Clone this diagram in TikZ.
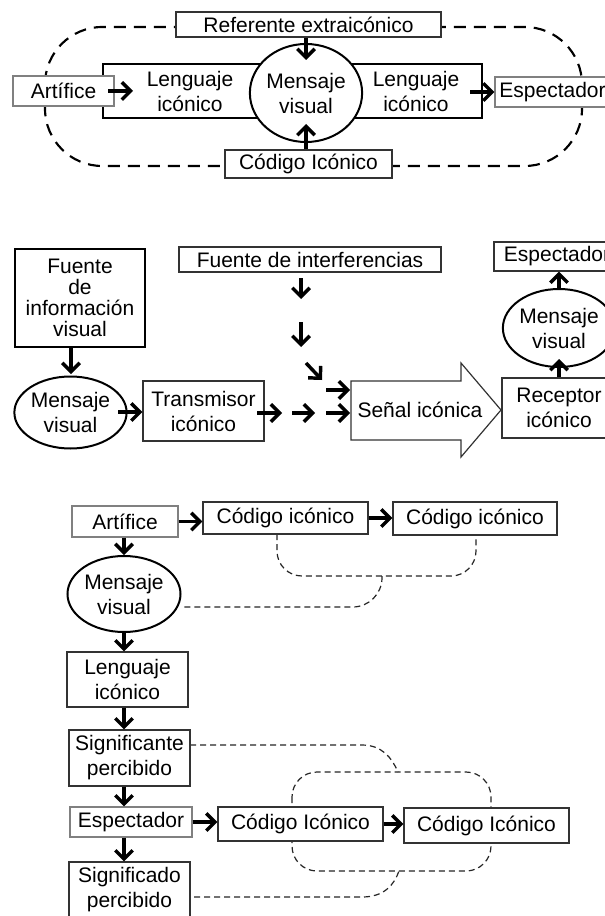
\documentclass[tikz,border=0pt]{standalone}
\usepackage{fontspec}
\setmainfont{Liberation Sans}
\usetikzlibrary{arrows.meta,shapes.geometric}
\begin{document}
\begin{tikzpicture}[x=0.75pt,y=-0.75pt,
  every node/.style={font=\fontsize{15.75}{18.75}\selectfont, inner sep=0pt, align=center},
  wh/.style 2 args={minimum width=#1*0.75pt, minimum height=#2*0.75pt},
  bx/.style={draw=black!80, line width=0.9pt, fill=white, rectangle},
  lbx/.style={draw=black!50, line width=0.9pt, fill=white, rectangle},
  tbx/.style={draw=black, line width=1.7pt, fill=white, rectangle},
  ell/.style={ellipse, draw=black, line width=1.5pt, fill=white},
  arr/.style={line width=2.6pt, -{Straight Barb[length=6.5pt,width=13pt]}},
  bigdash/.style={draw=black, line width=1.6pt, dash pattern=on 9pt off 6pt},
  smalldash/.style={draw=black!85, line width=0.9pt, dash pattern=on 4.5pt off 3pt},
]
\useasboundingbox (0,0) rectangle (605,916);
\clip (0,0) rectangle (605,916);
\fill[white] (0,0) rectangle (605,916);

% ---------- Section 1 ----------
\draw[bigdash, rounded corners=43pt] (45,27) rectangle (582,166);
\node[tbx, wh={379}{54}] (frame) at (292.5,91) {};
\node[ell, wh={108}{98}] (m1) at (306,93) {Mensaje\\visual};
\node[bx, wh={265}{25}] (ref) at (308.5,24.5) {Referente extraicónico};
\node[bx, wh={167}{28}] (cod1) at (308.5,164) {Código Icónico};
\node[lbx, wh={101}{30}] (art1) at (63.5,91) {Artífice};
\node[lbx, wh={115}{30}] (esp1) at (552.5,92) {Espectador};
\node (l1) at (190,91) {Lenguaje\\icónico};
\node (l2) at (416,91) {Lenguaje\\icónico};
\coordinate (a1) at (306,60);
\draw[arr] (ref.south -| a1) -- (a1);
\coordinate (a2) at (306,124);
\draw[arr] (cod1.north -| a2) -- (a2);
\coordinate (a3s) at (108,91);
\coordinate (a3) at (133,91);
\draw[arr] (a3s) -- (a3);
\coordinate (a4) at (470,92);
\draw[arr] (a4) -- (esp1.west);

% ---------- Section 2 ----------
\node[tbx, wh={130}{98}, font=\fontsize{15.75}{15.75}\selectfont] (fuente) at (80,298) {Fuente\\de\\información\\visual};
\node[ell, wh={107}{72}] (m2) at (70.5,412.5) {Mensaje\\visual};
\coordinate (b1) at (71,374);
\draw[arr] (fuente.south -| b1) -- (b1);
\node[bx, wh={121}{60}] (trans) at (203.5,411) {Transmisor\\icónico};
\coordinate (b2s) at (118,412);
\draw[arr] (b2s) -- (b2s -| trans.west);
\node[bx, wh={262}{25}] (fint) at (310,259.5) {Fuente de interferencias};

\coordinate (c1s) at (301,278); \coordinate (c1e) at (301,299);
\coordinate (c2s) at (301,322); \coordinate (c2e) at (301,347);
\coordinate (c3s) at (306,363); \coordinate (c3e) at (322,380);
\coordinate (c4s) at (326,390); \coordinate (c4e) at (350,390);
\coordinate (c5s) at (257,413); \coordinate (c5e) at (282,413);
\coordinate (c6s) at (292,413); \coordinate (c6e) at (315,413);
\coordinate (c7s) at (326,413); \coordinate (c7e) at (350,413);

\draw[draw=black!80, line width=0.9pt, fill=white] (351,381) -- (461,381) -- (461,363) -- (501,410) -- (461,457) -- (461,440) -- (351,440) -- cycle;
\node (sen) at (420,410) {Señal icónica};

\draw[arr] (c1s) -- (c1e);
\draw[arr] (c2s) -- (c2e);
\draw[arr] (c3s) -- (c3e);
\draw[arr] (c4s) -- (c4e);
\draw[arr] (c5s) -- (c5e);
\draw[arr] (c6s) -- (c6e);
\draw[arr] (c7s) -- (c7e);

\node[bx, wh={114}{60}] (rec) at (559,408) {Receptor\\icónico};
\node[ell, wh={106}{78}] (m3) at (559,328) {Mensaje\\visual};
\node[bx, wh={126}{29}] (esp2) at (557,256.5) {Espectador};
\coordinate (d1) at (559,359);
\draw[arr] (rec.north) -- (d1);
\draw[arr] (m3.north) -- (esp2.south -| m3.north);

% ---------- Section 3 ----------
\coordinate (e1) at (277,534); \coordinate (e2) at (277,576);
\coordinate (e3) at (476,576); \coordinate (e4) at (476,535);
\draw[smalldash, rounded corners=18.75pt] (e1) -- (e2) -- (e3) -- (e4);
\coordinate (f1) at (382,576); \coordinate (f2) at (382,607); \coordinate (f3) at (182,607);
\draw[smalldash, rounded corners=22pt] (f1) -- (f2) -- (f3);
\draw[smalldash, rounded corners=18.75pt] (292,772) rectangle (491,871);
\coordinate (g1) at (190,745); \coordinate (g2) at (362,745); \coordinate (g3) at (398,772);
\draw[smalldash] (g1) -- (g2) .. controls (382,745) and (392,758) .. (g3);
\coordinate (h1) at (194,897); \coordinate (h2) at (362,897); \coordinate (h3) at (399,871);
\draw[smalldash] (h1) -- (h2) .. controls (384,897) and (394,885) .. (h3);

\node[lbx, wh={106}{31}] (art3) at (125,521.5) {Artífice};
\node[bx, wh={165}{32}] (c3a) at (285.5,518) {Código icónico};
\node[bx, wh={164}{33}] (c3b) at (475,518.5) {Código icónico};
\draw[arr] (art3.east) -- (art3.east -| c3a.west);
\draw[arr] (c3a.east) -- (c3a.east -| c3b.west);
\node[ell, wh={113}{76}] (m4) at (124,594) {Mensaje\\visual};
\draw[arr] (art3.south -| m4.north) -- (m4.north);
\node[bx, wh={121}{55}] (leng) at (127.5,679.5) {Lenguaje\\icónico};
\draw[arr] (m4.south) -- (m4.south |- leng.north);
\node[bx, wh={121}{56}] (sig1) at (129.5,758) {Significante\\percibido};
\draw[arr] (leng.south -| m4.south) -- (m4.south |- sig1.north);
\node[lbx, wh={122}{30}] (esp3) at (131,822) {Espectador};
\draw[arr] (sig1.south -| m4.south) -- (m4.south |- esp3.north);
\node[bx, wh={165}{34}] (c3c) at (300.5,824) {Código Icónico};
\node[bx, wh={165}{35}] (c3d) at (486.5,825.5) {Código Icónico};
\draw[arr] (esp3.east) -- (esp3.east -| c3c.west);
\draw[arr] (c3c.east) -- (c3c.east -| c3d.west);
\node[bx, wh={121}{56}] (sig2) at (129.5,890) {Significado\\percibido};
\draw[arr] (esp3.south -| m4.south) -- (m4.south |- sig2.north);
\end{tikzpicture}
\end{document}
